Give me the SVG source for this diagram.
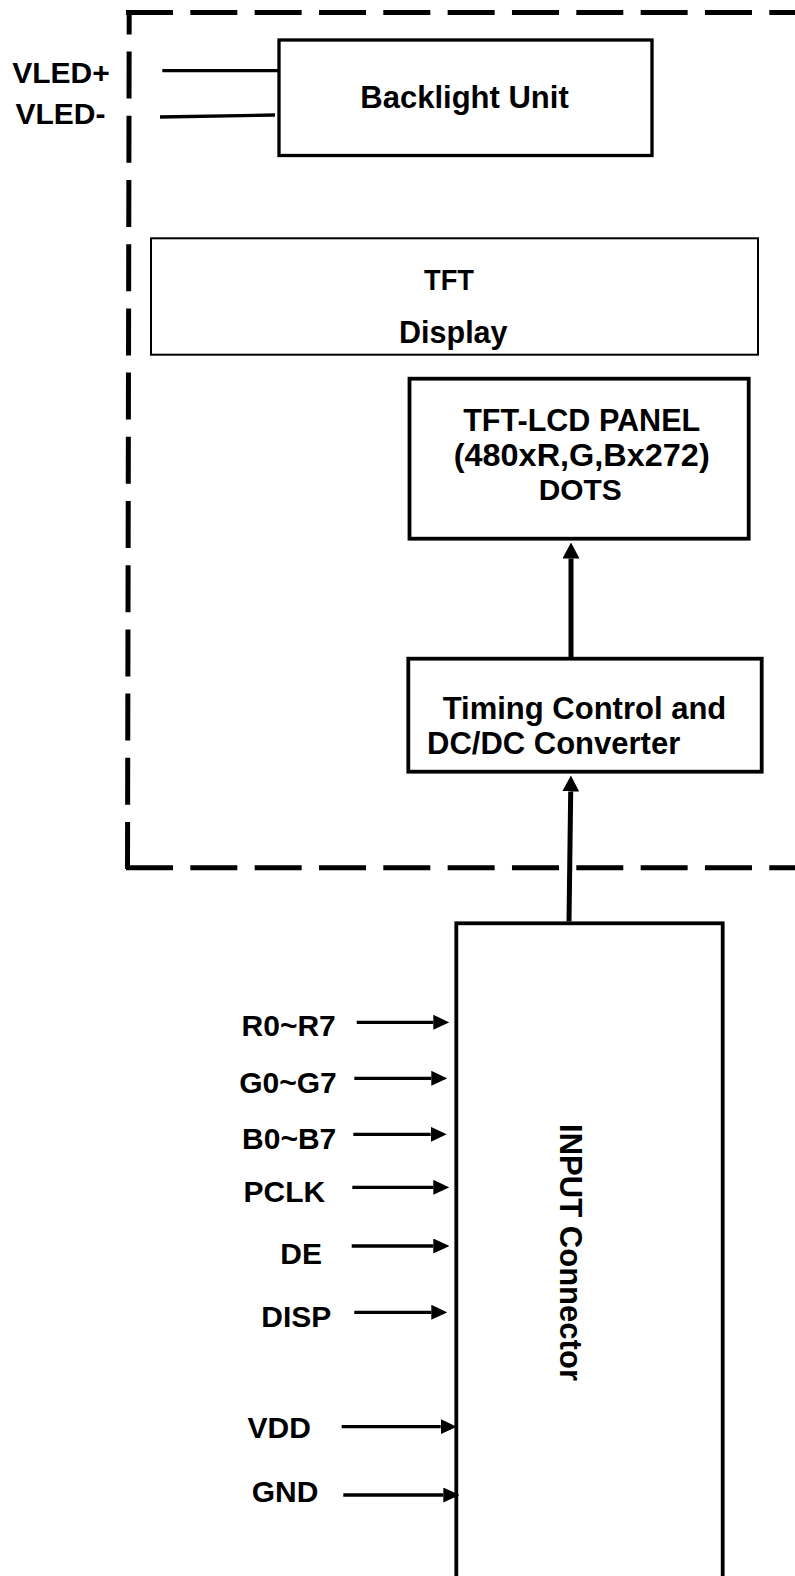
<svg xmlns="http://www.w3.org/2000/svg" width="795" height="1576" viewBox="0 0 795 1576">
<style>
.t{font-family:"Liberation Sans",Arial,sans-serif;font-weight:bold;fill:#000}
.box{fill:#fff;stroke:#000}
.dash{fill:none;stroke:#000;stroke-width:5;stroke-linecap:butt}
.w{fill:none;stroke:#000;stroke-width:3.3}
.thick{fill:none;stroke:#000;stroke-width:5}
</style>
<defs>
<marker id="ah" markerUnits="userSpaceOnUse" viewBox="0 0 16 15" refX="0" refY="7.5" markerWidth="16" markerHeight="15" orient="auto"><path d="M0,0 L16,7.5 L0,15 z" fill="#000"/></marker>
<marker id="ahb" markerUnits="userSpaceOnUse" viewBox="0 0 16 17" refX="0" refY="8.5" markerWidth="16" markerHeight="17" orient="auto"><path d="M0,0 L16,8.5 L0,17 z" fill="#000"/></marker>
</defs>
<rect width="795" height="1576" fill="#fff"/>
<g id="boundary">
<line class="dash" x1="126" y1="12.5" x2="800" y2="12.5" stroke-dasharray="47 17.33"/>
<line class="dash" x1="127.5" y1="869" x2="129.2" y2="10" stroke-dasharray="47 17.2"/>
<line class="dash" x1="126" y1="867.8" x2="800" y2="867.8" stroke-dasharray="47 17.33"/>
</g>
<g id="backlight">
<rect class="box" x="279" y="40" width="373" height="115.5" stroke-width="3.3"/>
<text class="t" x="464.5" y="108" font-size="31" text-anchor="middle">Backlight Unit</text>
</g>
<g id="tft-display">
<rect class="box" x="151" y="238.3" width="607" height="116.4" stroke-width="2"/>
<text class="t" x="449" y="289.5" font-size="29" text-anchor="middle" textLength="50" lengthAdjust="spacingAndGlyphs">TFT</text>
<text class="t" x="453.3" y="342.7" font-size="30.5" text-anchor="middle">Display</text>
</g>
<g id="tft-lcd-panel">
<rect class="box" x="409.5" y="378.7" width="339.2" height="160" stroke-width="3.8"/>
<text class="t" x="581.7" y="430.8" font-size="31" text-anchor="middle" textLength="237" lengthAdjust="spacingAndGlyphs">TFT-LCD PANEL</text>
<text class="t" x="581.7" y="465.6" font-size="31" text-anchor="middle" textLength="256" lengthAdjust="spacingAndGlyphs">(480xR,G,Bx272)</text>
<text class="t" x="580.3" y="499.5" font-size="30" text-anchor="middle" textLength="83" lengthAdjust="spacingAndGlyphs">DOTS</text>
</g>
<g id="timing-control">
<rect class="box" x="408.3" y="658.7" width="353.4" height="113" stroke-width="3.8"/>
<text class="t" x="442.7" y="719.3" font-size="31">Timing Control and</text>
<text class="t" x="427" y="754.3" font-size="31">DC/DC Converter</text>
</g>
<g id="input-connector">
<rect class="box" x="456.3" y="923.3" width="266.4" height="700" stroke-width="3.8"/>
<text class="t" transform="translate(559.5,1252.5) rotate(90)" x="0" y="0" font-size="31" text-anchor="middle" textLength="257" lengthAdjust="spacingAndGlyphs">INPUT Connector</text>
</g>
<g id="labels">
<text class="t" x="61" y="82.7" font-size="30" text-anchor="middle">VLED+</text>
<text class="t" x="60.5" y="124" font-size="30" text-anchor="middle">VLED-</text>
<text class="t" x="288.7" y="1036" font-size="30" text-anchor="middle">R0~R7</text>
<text class="t" x="288" y="1093.3" font-size="30" text-anchor="middle">G0~G7</text>
<text class="t" x="289.2" y="1149.3" font-size="30" text-anchor="middle">B0~B7</text>
<text class="t" x="284.3" y="1202.3" font-size="30" text-anchor="middle">PCLK</text>
<text class="t" x="301.2" y="1264" font-size="30" text-anchor="middle">DE</text>
<text class="t" x="296.3" y="1327.3" font-size="30" text-anchor="middle">DISP</text>
<text class="t" x="279.2" y="1438.3" font-size="30" text-anchor="middle">VDD</text>
<text class="t" x="285" y="1501.7" font-size="30" text-anchor="middle">GND</text>
</g>
<g id="connectors">
<line class="w" x1="162.3" y1="70.7" x2="279" y2="70.7"/>
<line class="w" x1="160" y1="117" x2="275" y2="115"/>
<line class="thick" x1="571" y1="657" x2="571" y2="558.5" marker-end="url(#ahb)"/>
<line class="thick" x1="569" y1="921.5" x2="570.7" y2="791.5" marker-end="url(#ahb)"/>
<line class="w" x1="356.7" y1="1022.3" x2="433.3" y2="1022.3" marker-end="url(#ah)"/>
<line class="w" x1="354.3" y1="1078.3" x2="431.3" y2="1078.3" marker-end="url(#ah)"/>
<line class="w" x1="353.3" y1="1134.3" x2="430.7" y2="1134.3" marker-end="url(#ah)"/>
<line class="w" x1="352.3" y1="1187.3" x2="433.3" y2="1187.3" marker-end="url(#ah)"/>
<line class="w" x1="351.7" y1="1246" x2="433.3" y2="1246" marker-end="url(#ah)"/>
<line class="w" x1="354.3" y1="1312.3" x2="431.3" y2="1312.3" marker-end="url(#ah)"/>
<line class="w" x1="341.7" y1="1426.7" x2="440.7" y2="1426.7" marker-end="url(#ah)"/>
<line class="w" x1="343.3" y1="1495" x2="443.3" y2="1495" marker-end="url(#ah)"/>
</g>
</svg>
